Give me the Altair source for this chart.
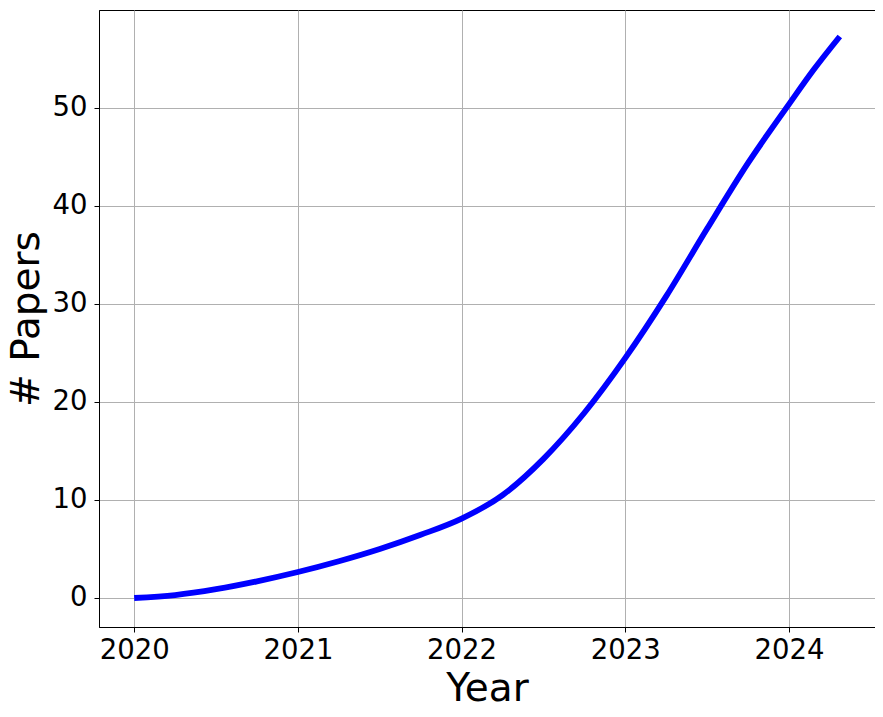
import altair as alt
import pandas as pd

years = [2020.0, 2020.25, 2020.5, 2020.75, 2021.0, 2021.25, 2021.5, 2021.75,
         2022.0, 2022.25, 2022.5, 2022.75, 2023.0, 2023.25, 2023.5, 2023.75,
         2024.0, 2024.15, 2024.31]
papers = [0.0, 0.3, 0.9, 1.7, 2.65, 3.75, 5.0, 6.45,
          8.1, 10.5, 14.2, 18.9, 24.5, 30.8, 37.7, 44.4,
          50.4, 53.9, 57.3]
x_ticks = [2020, 2021, 2022, 2023, 2024]
y_ticks = [0, 10, 20, 30, 40, 50]

df = pd.DataFrame({"Year": years, "Papers": papers})

FONT = "DejaVu Sans"
W, H = 776, 617

chart = alt.Chart(df).mark_line(
    color="#0000ff", strokeWidth=5.8, interpolate="monotone", strokeCap="butt"
).encode(
    x=alt.X("Year:Q",
            scale=alt.Scale(domain=[2019.785, 2024.525], nice=False, zero=False),
            axis=alt.Axis(values=x_ticks, format="d", title="Year",
                          titleX=W / 2, titleY=73, titleAlign="center",
                          titleBaseline="alphabetic",
                          labelBaseline="alphabetic", labelPadding=26,
                          labelFlush=False)),
    y=alt.Y("Papers:Q",
            scale=alt.Scale(domain=[-2.96, 60.0], nice=False, zero=False),
            axis=alt.Axis(values=y_ticks, title="# Papers",
                          titleX=-61, titleY=H / 2, titleAngle=-90,
                          titleAlign="center", titleBaseline="alphabetic",
                          labelPadding=7, labelBaseline="middle")),
).properties(
    width=W, height=H,
    autosize=alt.AutoSizeParams(type="none"),
    padding={"left": 91, "top": 2, "right": 0, "bottom": 80},
).configure_view(
    stroke="black", strokeWidth=1
).configure_axis(
    grid=True, gridColor="#b0b0b0", gridWidth=1,
    domainColor="black", domainWidth=1,
    tickColor="black", tickWidth=1, tickSize=5,
    labelFont=FONT, labelFontSize=27.5, labelColor="black",
    titleFont=FONT, titleFontSize=39, titleFontWeight="normal", titleColor="black",
)

chart.save("out.html", embed_options={"renderer": "svg", "actions": False})
